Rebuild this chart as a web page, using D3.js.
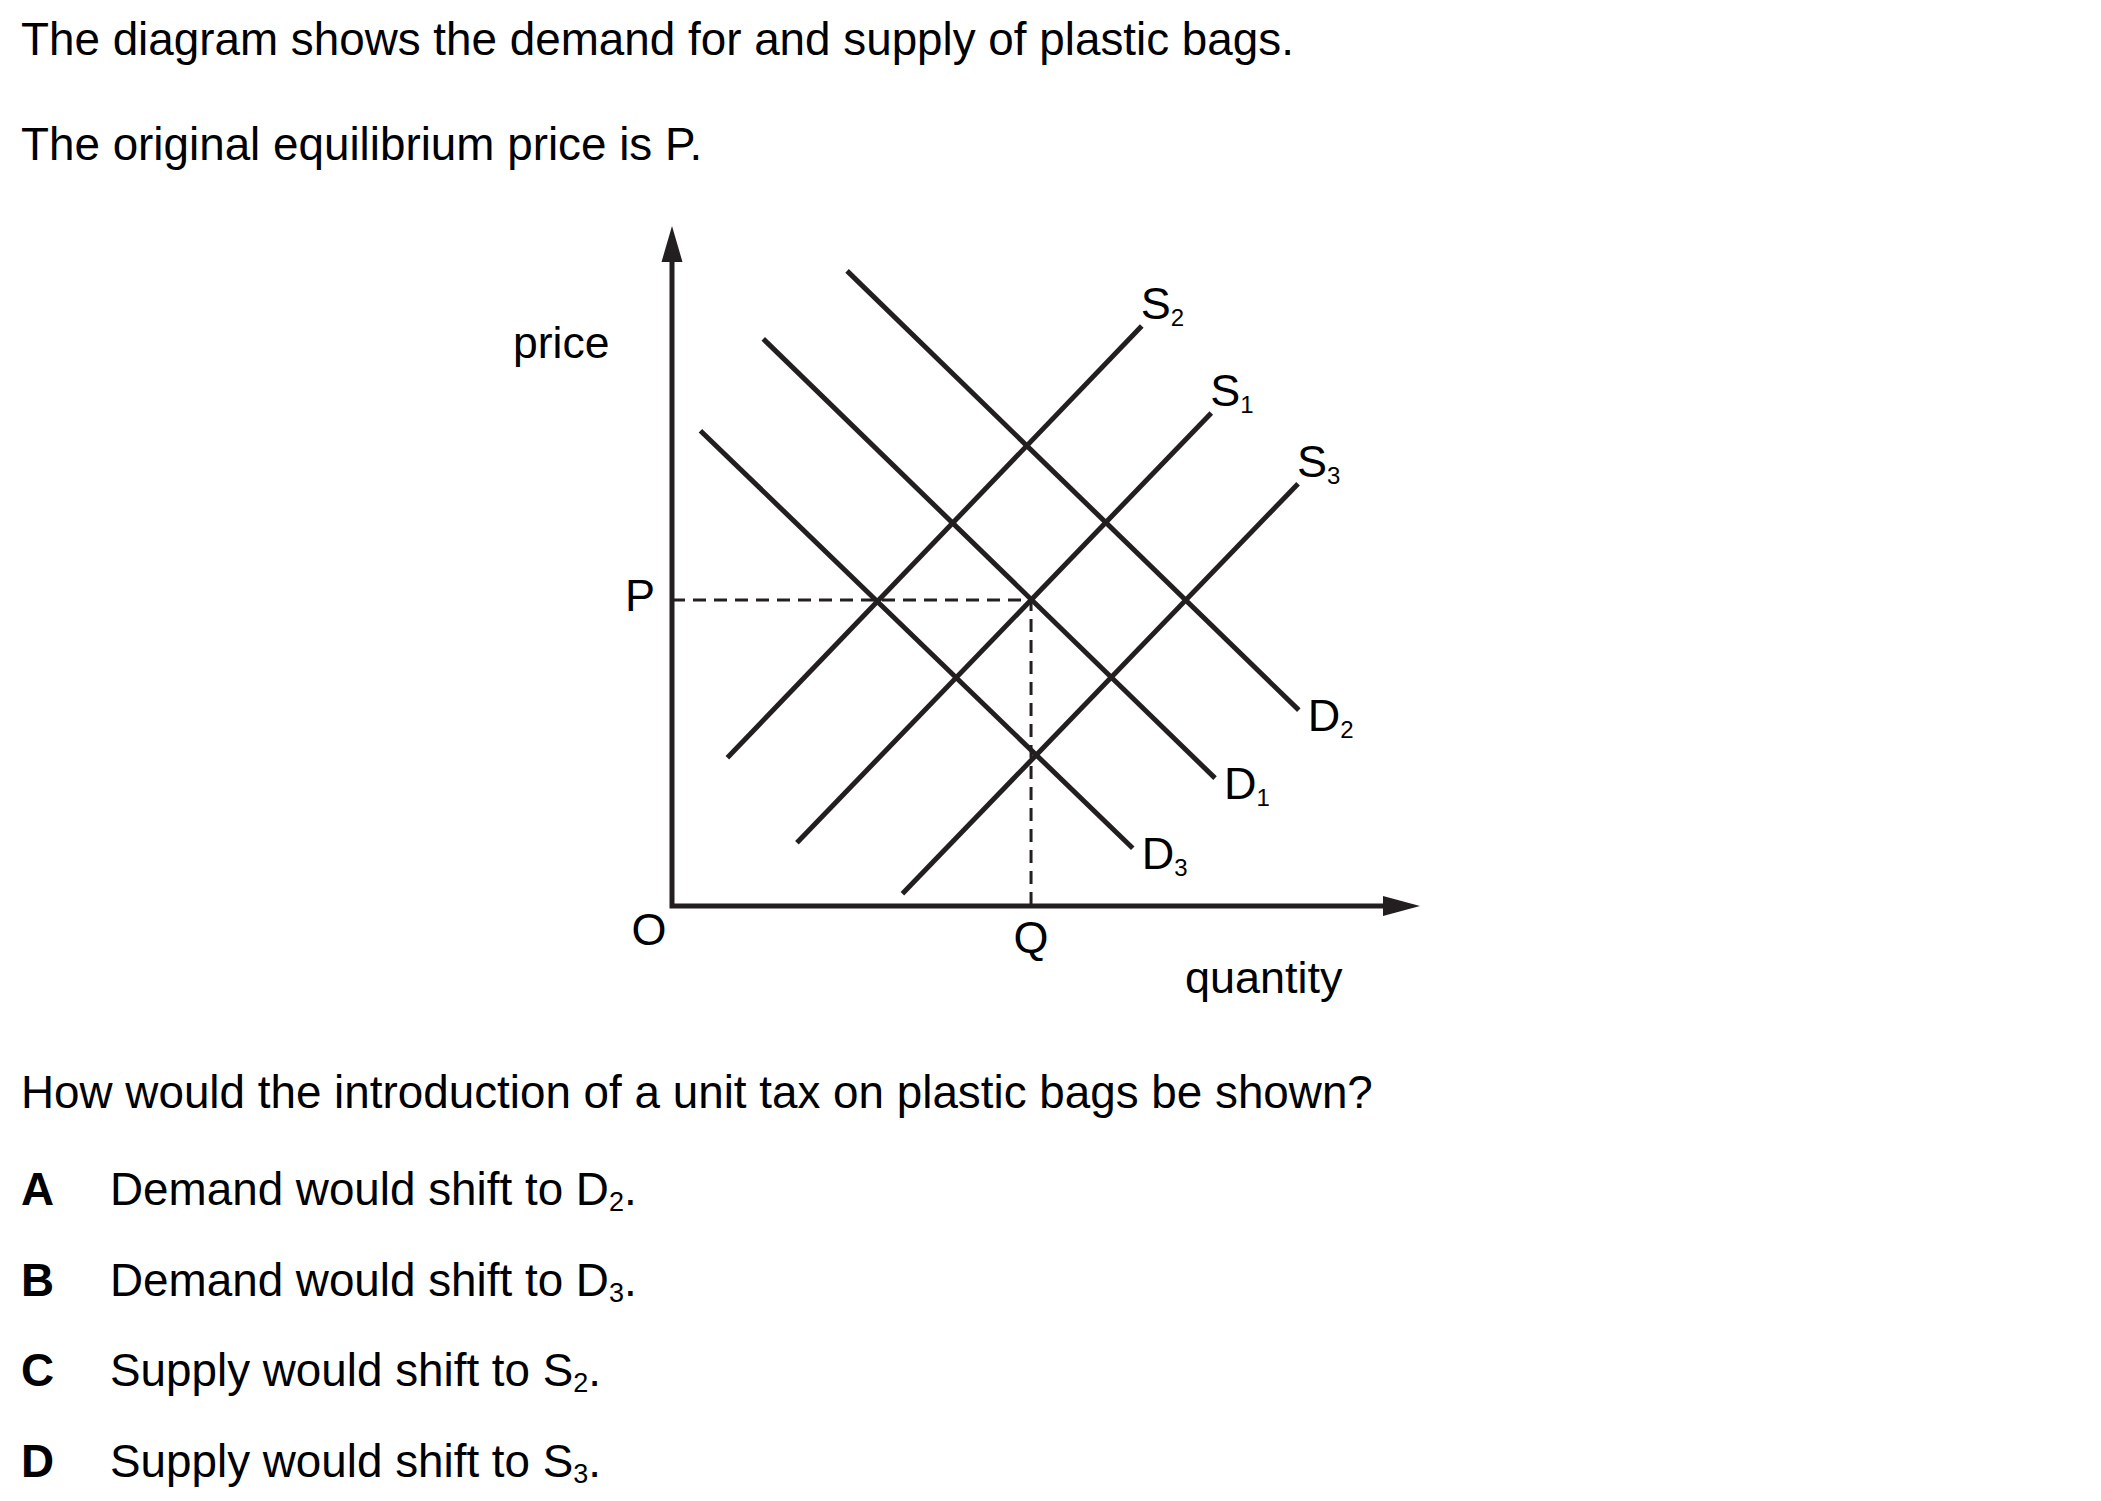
<!DOCTYPE html>
<html>
<head>
<meta charset="utf-8">
<script src="https://cdn.jsdelivr.net/npm/d3@7"></script>
<style>
  html, body { margin: 0; padding: 0; background: #fff; }
  svg { display: block; }
  text { font-family: "Liberation Sans", Arial, Helvetica, sans-serif; fill: #000; }
</style>
</head>
<body>
<svg id="chart" width="2101" height="1501"></svg>
<script>
// ---------------- data (quantity / price units) ----------------
const demandNames = ["D", "D", "D"];
const demandSubs  = ["2", "1", "3"];
const demandStartQ = [23.4, 12.2, 3.8];
const demandStartP = [93.4, 83.4, 69.9];
const demandEndQ   = [83.8, 72.6, 61.6];
const demandEndP   = [28.8, 18.8, 8.5];

const supplyNames = ["S", "S", "S"];
const supplySubs  = ["2", "1", "3"];
const supplyStartQ = [7.4, 16.7, 30.8];
const supplyStartP = [21.8, 9.3, 1.8];
const supplyEndQ   = [62.8, 72.1, 83.7];
const supplyEndP   = [85.3, 72.5, 62.1];

const equilibriumQ = 48.0;
const equilibriumP = 45.0;
const axisMax = 100;

const titleLines = [
  "The diagram shows the demand for and supply of plastic bags.",
  "The original equilibrium price is P."
];
const question = "How would the introduction of a unit tax on plastic bags be shown?";
const optionLetters = ["A", "B", "C", "D"];
const optionTexts = ["Demand would shift to D", "Demand would shift to D", "Supply would shift to S", "Supply would shift to S"];
const optionSubs = ["2", "3", "2", "3"];

// ---------------- drawing ----------------
const svg = d3.select("#chart");
svg.append("rect").attr("width", 2101).attr("height", 1501).attr("fill", "#fff");

const x = d3.scaleLinear().domain([0, axisMax]).range([672, 1420]);
const y = d3.scaleLinear().domain([0, axisMax]).range([906, 226]);
const ink = "#231f20";
const fs = 45.8;

// page text
svg.append("text").attr("x", 21).attr("y", 55).attr("font-size", fs).text(titleLines[0]);
svg.append("text").attr("x", 21).attr("y", 160).attr("font-size", fs).text(titleLines[1]);
svg.append("text").attr("x", 21).attr("y", 1108).attr("font-size", fs).text(question);

const optY = [1205, 1296, 1386, 1477];
optionLetters.forEach((L, i) => {
  svg.append("text").attr("x", 21).attr("y", optY[i]).attr("font-size", fs)
     .attr("font-weight", "bold").text(L);
  const t = svg.append("text").attr("x", 110).attr("y", optY[i]).attr("font-size", fs);
  t.append("tspan").text(optionTexts[i]);
  t.append("tspan").attr("font-size", 27).attr("dy", 6).text(optionSubs[i]);
  t.append("tspan").attr("dy", -6).text(".");
});

// axes (lines + arrowheads)
const g = svg.append("g");
const axisLine = d3.line().x(d => x(d[0])).y(d => y(d[1]));
const yTop = y(axisMax), xRight = x(axisMax);
g.append("path")
  .attr("d", `M${x(0)},${yTop + 36} L${x(0)},${y(0)} L${xRight - 37},${y(0)}`)
  .attr("fill", "none").attr("stroke", ink).attr("stroke-width", 5)
  .attr("stroke-linejoin", "miter").attr("stroke-linecap", "square");
g.append("path")
  .attr("d", `M${x(0)},${yTop} L${x(0) + 10.5},${yTop + 36} L${x(0) - 10.5},${yTop + 36} Z`)
  .attr("fill", ink);
g.append("path")
  .attr("d", `M${xRight},${y(0)} L${xRight - 37},${y(0) - 10} L${xRight - 37},${y(0) + 10} Z`)
  .attr("fill", ink);

// dashed equilibrium guides
g.append("path")
  .attr("d", axisLine([[0, equilibriumP], [equilibriumQ, equilibriumP], [equilibriumQ, 0]]))
  .attr("fill", "none").attr("stroke", ink).attr("stroke-width", 3)
  .attr("stroke-dasharray", "13,8");

// demand and supply curves
const curves = [];
demandNames.forEach((n, i) => curves.push({
  type: "D", name: n, sub: demandSubs[i],
  pts: [[demandStartQ[i], demandStartP[i]], [demandEndQ[i], demandEndP[i]]]
}));
supplyNames.forEach((n, i) => curves.push({
  type: "S", name: n, sub: supplySubs[i],
  pts: [[supplyStartQ[i], supplyStartP[i]], [supplyEndQ[i], supplyEndP[i]]]
}));

g.selectAll("path.curve").data(curves).join("path")
  .attr("class", "curve")
  .attr("d", d => axisLine(d.pts))
  .attr("fill", "none").attr("stroke", ink).attr("stroke-width", 5)
  .attr("stroke-linecap", "butt");

// curve labels
curves.forEach(d => {
  const end = d.pts[1];
  let lx, ly;
  if (d.type === "S") { lx = x(end[0]) - 1; ly = y(end[1]) - 7; }
  else { lx = x(end[0]) + 9; ly = y(end[1]) + 21; }
  const t = svg.append("text").attr("x", lx).attr("y", ly).attr("font-size", 45).attr("fill", ink);
  t.append("tspan").text(d.name);
  t.append("tspan").attr("font-size", 24).attr("dy", 7).text(d.sub);
});

// axis labels
svg.append("text").attr("x", 513).attr("y", 358).attr("font-size", 44.5).text("price");
svg.append("text").attr("x", x(0) - 17).attr("y", y(equilibriumP) + 11)
   .attr("font-size", 45).attr("text-anchor", "end").text("P");
svg.append("text").attr("x", x(0) - 23).attr("y", 945)
   .attr("font-size", 45).attr("text-anchor", "middle").text("O");
svg.append("text").attr("x", x(equilibriumQ)).attr("y", 953)
   .attr("font-size", 45).attr("text-anchor", "middle").text("Q");
svg.append("text").attr("x", 1185).attr("y", 993).attr("font-size", 45).text("quantity");
</script>
</body>
</html>
